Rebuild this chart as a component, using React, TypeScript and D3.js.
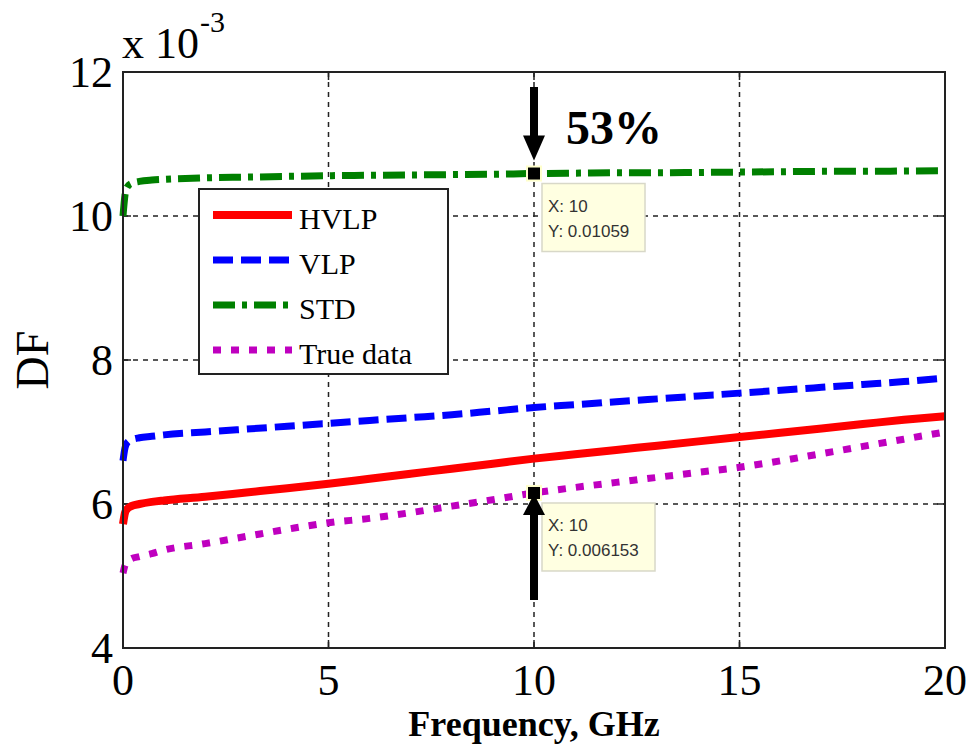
import React from "react";
import * as d3 from "d3";

const freq = [0, 0.05, 0.1, 0.2, 0.4, 0.7, 1, 2, 3, 4, 5, 6, 7, 8, 9, 10, 11, 12, 13, 14, 15, 16, 17, 18, 19, 20];
const hvlp = [5.72, 5.88, 5.93, 5.97, 6.0, 6.03, 6.05, 6.1, 6.16, 6.22, 6.28, 6.35, 6.42, 6.49, 6.56, 6.63, 6.69, 6.75, 6.81, 6.87, 6.93, 6.99, 7.05, 7.11, 7.17, 7.22];
const vlp = [6.6, 6.78, 6.85, 6.89, 6.92, 6.94, 6.96, 7.0, 7.04, 7.08, 7.12, 7.16, 7.2, 7.24, 7.29, 7.34, 7.38, 7.42, 7.46, 7.5, 7.54, 7.58, 7.62, 7.66, 7.7, 7.75];
const std = [10.0, 10.3, 10.4, 10.45, 10.48, 10.5, 10.51, 10.53, 10.54, 10.55, 10.56, 10.565, 10.57, 10.575, 10.58, 10.59, 10.595, 10.6, 10.6, 10.605, 10.61, 10.615, 10.62, 10.62, 10.625, 10.63];
const trueData = [5.04, 5.15, 5.2, 5.24, 5.27, 5.31, 5.36, 5.45, 5.55, 5.65, 5.74, 5.8, 5.88, 5.97, 6.06, 6.153, 6.23, 6.3, 6.37, 6.44, 6.51, 6.6, 6.7, 6.8, 6.9, 7.0];

const xTicks = [0, 5, 10, 15, 20];
const yTicks = [4, 6, 8, 10, 12];

const seriesNames = ["HVLP", "VLP", "STD", "True data"];
const seriesColors = ["#ff0000", "#0000ff", "#008000", "#bf00bf"];
const seriesDash = ["none", "20,8", "22,7,5,7", "8,10"];
const seriesValues = [hvlp, vlp, std, trueData];

const tips = [
  { x: 10, y: 10.59, label: ["X: 10", "Y: 0.01059"] },
  { x: 10, y: 6.153, label: ["X: 10", "Y: 0.006153"] },
];

const serif = "'Liberation Serif', 'Times New Roman', serif";
const sans = "'Liberation Sans', Arial, sans-serif";

export default function App() {
  const L = 123, R = 945, T = 72, B = 648;
  const x = d3.scaleLinear().domain([0, 20]).range([L, R]);
  const y = d3.scaleLinear().domain([4, 12]).range([B, T]);

  const line = d3
    .line<[number, number]>()
    .x((d) => x(d[0]))
    .y((d) => y(d[1]))
    .curve(d3.curveMonotoneX);

  const tipW = [103, 113];

  return (
    <svg width={970} height={750} style={{ position: "absolute", left: 0, top: 0, background: "#fff" }}>
      <rect x={0} y={0} width={970} height={750} fill="#fff" />
      {/* grid */}
      {xTicks.slice(1, -1).map((t) => (
        <line key={"gx" + t} x1={x(t)} x2={x(t)} y1={T} y2={B} stroke="#222" strokeWidth={1.5} strokeDasharray="5,5" />
      ))}
      {yTicks.slice(1, -1).map((t) => (
        <line key={"gy" + t} x1={L} x2={R} y1={y(t)} y2={y(t)} stroke="#222" strokeWidth={1.5} strokeDasharray="5,5" />
      ))}
      {/* ticks */}
      {xTicks.map((t) => (
        <g key={"tx" + t}>
          <line x1={x(t)} x2={x(t)} y1={B} y2={B - 8} stroke="#222" strokeWidth={1.5} />
          <line x1={x(t)} x2={x(t)} y1={T} y2={T + 8} stroke="#222" strokeWidth={1.5} />
          <text x={x(t)} y={695} textAnchor="middle" fontFamily={serif} fontSize={44} fill="#000">
            {t}
          </text>
        </g>
      ))}
      {yTicks.map((t) => (
        <g key={"ty" + t}>
          <line x1={L} x2={L + 8} y1={y(t)} y2={y(t)} stroke="#222" strokeWidth={1.5} />
          <line x1={R} x2={R - 8} y1={y(t)} y2={y(t)} stroke="#222" strokeWidth={1.5} />
          <text x={113} y={y(t) + 15} textAnchor="end" fontFamily={serif} fontSize={44} fill="#000">
            {t}
          </text>
        </g>
      ))}
      {/* series */}
      {seriesValues.map((vals, i) => (
        <path
          key={seriesNames[i]}
          d={line(freq.map((f, j) => [f, vals[j]] as [number, number])) || ""}
          fill="none"
          stroke={seriesColors[i]}
          strokeWidth={i === 0 ? 8 : 7}
          strokeDasharray={seriesDash[i]}
        />
      ))}
      {/* axes box */}
      <rect x={L} y={T} width={R - L} height={B - T} fill="none" stroke="#222" strokeWidth={2} />
      {/* exponent */}
      <text x={122} y={58} fontFamily={serif} fontSize={44} fill="#000">
        x 10
      </text>
      <text x={200} y={32} fontFamily={serif} fontSize={30} fill="#000">
        -3
      </text>
      {/* axis labels */}
      <text
        transform={`translate(48,360) rotate(-90)`}
        textAnchor="middle"
        fontFamily={serif}
        fontSize={46}
        fill="#000"
      >
        DF
      </text>
      <text x={534} y={736} textAnchor="middle" fontFamily={serif} fontWeight="bold" fontSize={36} fill="#000">
        Frequency, GHz
      </text>
      {/* legend */}
      <rect x={199} y={189} width={249} height={185} fill="#fff" stroke="#222" strokeWidth={2} />
      {seriesNames.map((n, i) => {
        const cy = 215 + i * 45;
        return (
          <g key={"lg" + n}>
            <line
              x1={213}
              x2={292}
              y1={cy}
              y2={cy}
              stroke={seriesColors[i]}
              strokeWidth={i === 0 ? 8 : 7}
              strokeDasharray={seriesDash[i]}
            />
            <text x={299} y={cy + 14} fontFamily={serif} fontSize={30} fill="#000">
              {n}
            </text>
          </g>
        );
      })}
      {/* data tips */}
      {tips.map((tp, i) => {
        const cx = x(tp.x);
        const cy = y(tp.y);
        const bx = cx + 8;
        const by = cy + 10;
        return (
          <g key={"tip" + i}>
            <rect x={bx} y={by} width={tipW[i]} height={68} fill="#ffffe1" stroke="#d8d8c8" strokeWidth={1.5} />
            <text x={bx + 6} y={by + 28} fontFamily={sans} fontSize={17} fill="#333">
              {tp.label[0]}
            </text>
            <text x={bx + 6} y={by + 53} fontFamily={sans} fontSize={17} fill="#333">
              {tp.label[1]}
            </text>
            <rect x={cx - 7} y={cy - 7} width={14} height={14} fill="#000" stroke="#ffffcc" strokeWidth={2} />
          </g>
        );
      })}
      {/* arrows */}
      {(() => {
        const cx = x(10);
        const top = y(tips[0].y);
        const bot = y(tips[1].y);
        return (
          <g fill="#000">
            <rect x={cx - 4} y={87} width={8} height={top - 14 - 87 - 22} />
            <polygon points={`${cx - 11},${top - 38} ${cx + 11},${top - 38} ${cx},${top - 13}`} />
            <rect x={cx - 4} y={bot + 20} width={8} height={600 - bot - 20} />
            <polygon points={`${cx - 11},${bot + 22} ${cx + 11},${bot + 22} ${cx},${bot + 1}`} />
          </g>
        );
      })()}
      <text x={566} y={144} fontFamily={serif} fontWeight="bold" fontSize={48} fill="#000">
        53%
      </text>
    </svg>
  );
}
